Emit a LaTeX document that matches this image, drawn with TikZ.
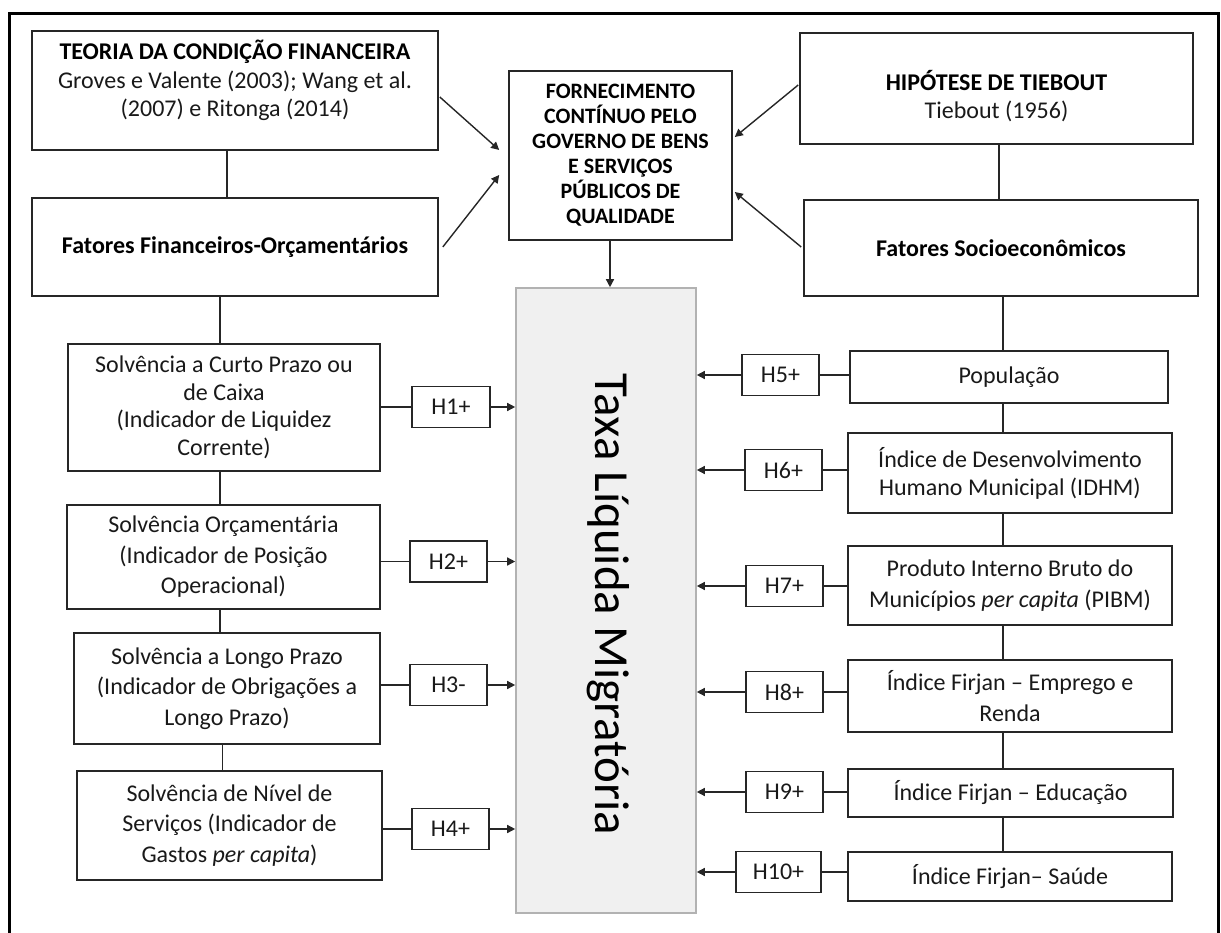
\documentclass[tikz,border=0pt]{standalone}
\usepackage{fontspec}
\setmainfont{Carlito}
\usetikzlibrary{arrows.meta,calc}
\begin{document}
\begin{tikzpicture}[x=1pt,y=-1pt,
  box/.style={draw=black!85, line width=1.6pt, inner sep=0pt, align=center, font=\fontsize{24}{28}\selectfont, text=black!90},
  boldbox/.style={box, font=\bfseries\fontsize{24}{28}\selectfont, text=black},
  lbox/.style={box, font=\fontsize{24}{30.5}\selectfont},
  hbox/.style={box, minimum width=77pt, minimum height=41pt},
  ln/.style={line width=1.4pt, draw=black!85},
  arr/.style={ln, -{Triangle[length=8pt,width=8pt]}},
  lbl/.style={align=center, inner sep=0pt, font=\fontsize{24}{28.5}\selectfont, text=black!90}
]
\useasboundingbox (0,0) rectangle (1221,933);
\draw[line width=3pt] (9,935) -- (9,14) -- (1218,14) -- (1218,935);

% top left
\node[box, minimum width=406pt, minimum height=119pt] (teoria) at (235,90.5) {};
\node[lbl] (teoriaT) at (235,80.5) {\textbf{\color{black}TEORIA DA CONDIÇÃO FINANCEIRA}\\Groves e Valente (2003); Wang et al.\\(2007) e Ritonga (2014)};
\node[boldbox, minimum width=406pt, minimum height=98pt] (fatF) at (235,247) {Fatores Financeiros-Orçamentários};

% center
\node[box, font=\bfseries\fontsize{22}{25}\selectfont, text=black, minimum width=223pt, minimum height=169pt] (forn) at (620.5,155.5) {FORNECIMENTO\\CONTÍNUO PELO\\GOVERNO DE BENS\\E SERVIÇOS\\PÚBLICOS DE\\QUALIDADE};

% top right
\node[box, minimum width=393pt, minimum height=111pt] (hyp) at (996.5,88.5) {};
\node[lbl, font=\fontsize{24}{28}\selectfont] (hypT) at (996.5,96) {\textbf{\color{black}HIPÓTESE DE TIEBOUT}\\Tiebout (1956)};
\node[boldbox, minimum width=394pt, minimum height=96pt] (socio) at (1001,248) {Fatores Socioeconômicos};

% central target
\node[draw=black!30, fill=black!6, line width=1.6pt, inner sep=0pt, minimum width=180pt, minimum height=625pt] (taxa) at (606,600.5) {};
\node[rotate=-90, anchor=base, inner sep=0pt, font=\fontsize{49}{55}\selectfont] (taxaT) at (595,604.5) {Taxa Líquida Migratória};

% left column
\node[box, font=\fontsize{24}{27.5}\selectfont, minimum width=312pt, minimum height=127pt] (b1) at (224,407.5) {Solvência a Curto Prazo ou\\de Caixa\\(Indicador de Liquidez\\Corrente)};
\node[lbox, minimum width=313pt, minimum height=104pt] (b2) at (223.5,557) {Solvência Orçamentária\\(Indicador de Posição\\Operacional)};
\node[lbox, minimum width=306pt, minimum height=111pt] (b3) at (227,688.5) {Solvência a Longo Prazo\\(Indicador de Obrigações a\\Longo Prazo)};
\node[lbox, minimum width=305pt, minimum height=109pt] (b4) at (229.5,825.5) {Solvência de Nível de\\Serviços (Indicador de\\Gastos \textit{per capita})};

\node[hbox, minimum width=78pt] (h1) at (451,407) {H1+};
\node[hbox] (h2) at (448.5,561.5) {H2+};
\node[hbox] (h3) at (448.5,685) {H3-};
\node[hbox] (h4) at (450.5,829) {H4+};

% right column
\node[box, minimum width=318pt, minimum height=52pt] (pop) at (1009,377) {População};
\node[box, minimum width=324pt, minimum height=80pt] (idhm) at (1010,473) {Índice de Desenvolvimento\\Humano Municipal (IDHM)};
\node[box, font=\fontsize{24}{31}\selectfont, minimum width=324pt, minimum height=79pt] (pibm) at (1010,585.5) {Produto Interno Bruto do\\Municípios \textit{per capita} (PIBM)};
\node[box, font=\fontsize{24}{31}\selectfont, minimum width=324pt, minimum height=72pt] (emp) at (1010,696) {Índice Firjan – Emprego e\\Renda};
\node[box, minimum width=325pt, minimum height=48pt] (edu) at (1010.5,793) {Índice Firjan – Educação};
\node[box, minimum width=324pt, minimum height=49pt] (sau) at (1010,876.5) {Índice Firjan– Saúde};

\node[hbox] (h5) at (780.5,375) {H5+};
\node[hbox] (h6) at (783.5,470) {H6+};
\node[hbox] (h7) at (784.5,586) {H7+};
\node[hbox] (h8) at (784.5,692) {H8+};
\node[hbox] (h9) at (784.5,792) {H9+};
\node[hbox, minimum width=85pt] (h10) at (778.5,872) {H10+};

% helper x positions
\coordinate (tx) at (227,0);
\coordinate (lx) at (220,0);
\coordinate (lx2) at (222.5,0);
\coordinate (hx) at (999,0);
\coordinate (rx) at (1003,0);
\coordinate (dA) at ($(forn.south)+(-10.5,0)$);

% vertical connectors
\draw[ln] (teoria.south -| tx) -- (fatF.north -| tx);
\draw[ln] (fatF.south -| lx) -- (b1.north -| lx);
\draw[ln] (b1.south -| lx) -- (b2.north -| lx);
\draw[ln] (b2.south -| lx) -- (b3.north -| lx);
\draw[ln] (b3.south -| lx2) -- (b4.north -| lx2);
\draw[ln] (hyp.south -| hx) -- (socio.north -| hx);
\draw[ln] (socio.south -| rx) -- (pop.north -| rx);
\draw[ln] (pop.south -| rx) -- (idhm.north -| rx);
\draw[ln] (idhm.south -| rx) -- (pibm.north -| rx);
\draw[ln] (pibm.south -| rx) -- (emp.north -| rx);
\draw[ln] (emp.south -| rx) -- (edu.north -| rx);
\draw[ln] (edu.south -| rx) -- (sau.north -| rx);

% arrows into the supply box
\draw[arr] ($(teoria.east)+(1,6.5)$) -- ($(forn.west)+(-9,-5.5)$);
\draw[arr] ($(fatF.east)+(4,0)$) -- ($(forn.west)+(-9,19.5)$);
\draw[arr] ($(hyp.west)+(-1,-3.5)$) -- ($(forn.east)+(2,-18.5)$);
\draw[arr] ($(socio.west)+(-2,-1)$) -- ($(forn.east)+(2,36.5)$);
\draw[arr] (dA) -- (dA |- taxa.north);

% left hypotheses
\foreach \b/\h in {b1/h1,b2/h2,b3/h3,b4/h4}{
  \draw[ln] (\b.east |- \h.west) -- (\h.west);
  \draw[arr] (\h.east) -- (\h.east -| taxa.west);
}
% right hypotheses
\foreach \b/\h in {pop/h5,idhm/h6,pibm/h7,emp/h8,edu/h9,sau/h10}{
  \draw[ln] (\b.west |- \h.east) -- (\h.east);
  \draw[arr] (\h.west) -- (\h.west -| taxa.east);
}
\end{tikzpicture}
\end{document}
